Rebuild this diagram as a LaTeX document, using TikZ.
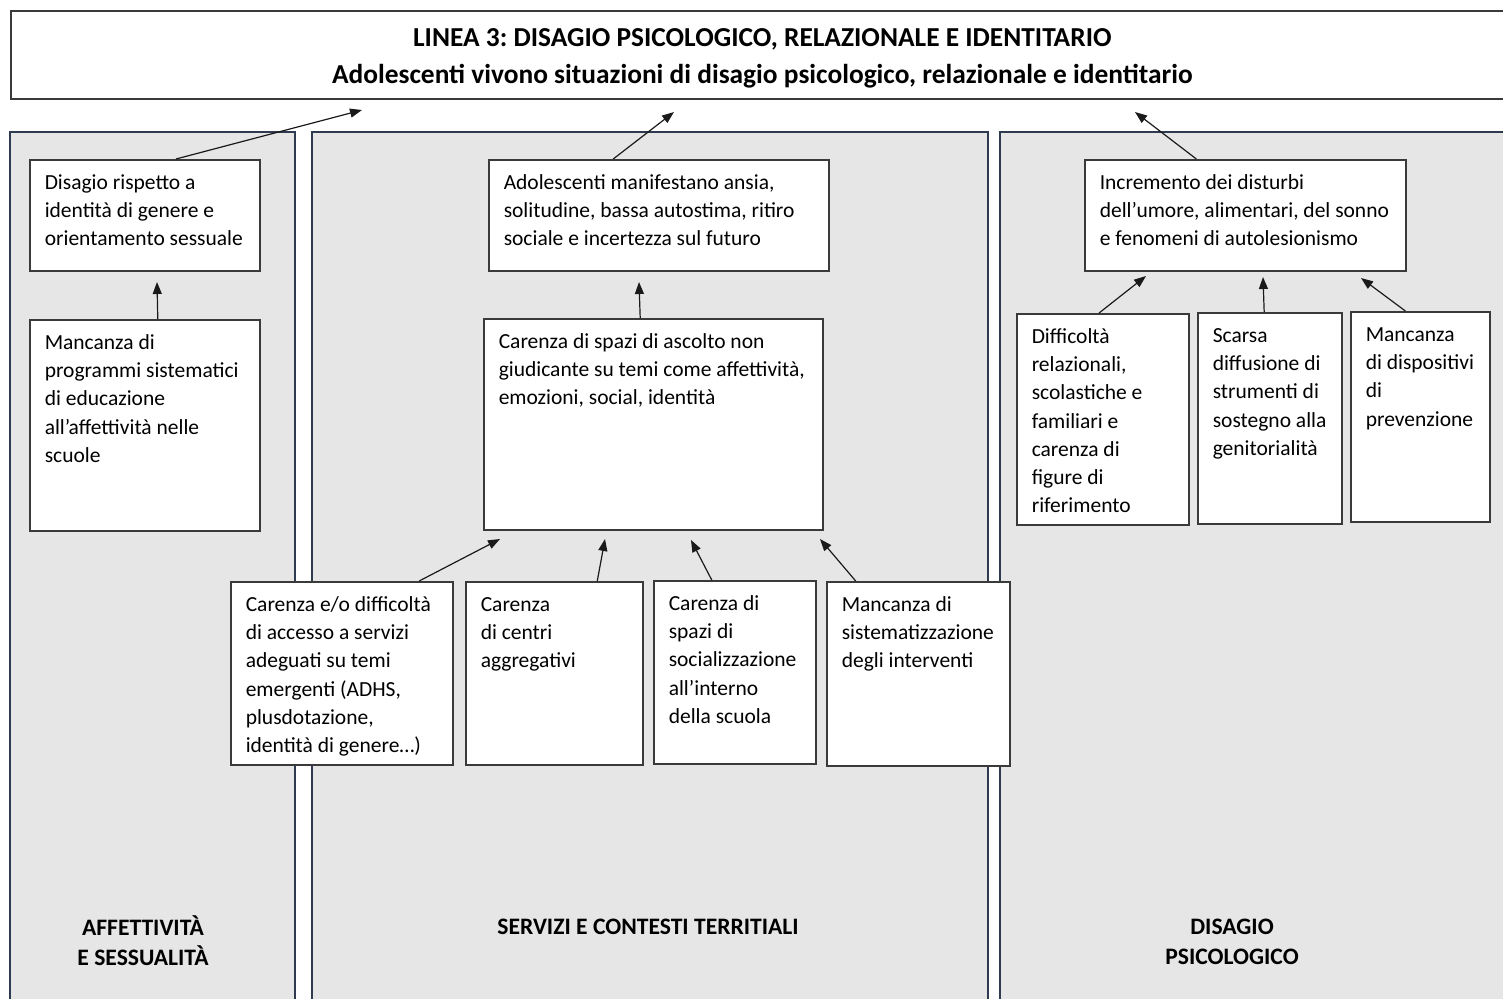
\documentclass[tikz,border=0pt]{standalone}
\usepackage{fontspec}
\setmainfont{Carlito}
\usetikzlibrary{arrows.meta}
\frenchspacing

\definecolor{panelgray}{HTML}{E7E6E6}
\definecolor{panelline}{HTML}{2E3A50}
\definecolor{boxline}{HTML}{3A3A3A}
\definecolor{arrowline}{HTML}{1A1A1A}

% text block of a box: width, height, lines
\newcommand{\btxt}[3]{\parbox[t][#2][t]{#1}{\begin{tabular}[t]{@{}l@{}}#3\end{tabular}}}

\begin{document}
\begin{tikzpicture}[x=0.5pt, y=-0.5pt,
    panel/.style={fill=panelgray, draw=panelline, line width=1pt},
    paneltitle/.style={font=\bfseries\fontsize{11.8}{15}\selectfont, align=center}]
  \useasboundingbox (0,0) rectangle (1503,998);
  \clip (0,0) rectangle (1503,998);

  % the three areas
  \draw[panel] (10,132) rectangle (295,1010);
  \draw[panel] (312,132) rectangle (988,1010);
  \draw[panel] (1000,132) rectangle (1512,1010);
  \node[paneltitle] (lab1) at (143,941) {AFFETTIVITÀ\\E SESSUALITÀ};
  \node[paneltitle] (lab2) at (648,927) {SERVIZI E CONTESTI TERRITIALI};
  \node[paneltitle] (lab3) at (1232,942) {DISAGIO\\PSICOLOGICO};

  % main problem
  \node (linea) [draw=boxline, line width=0.8pt, fill=white, anchor=north west,
    minimum width=751.5pt, minimum height=44pt, align=center,
    font=\bfseries\fontsize{13.7}{18.5}\selectfont] at (10,10)
    {\rule{0pt}{12.5pt}LINEA 3: DISAGIO PSICOLOGICO, RELAZIONALE E IDENTITARIO\\
     Adolescenti vivono situazioni di disagio psicologico, relazionale e identitario};

  \begin{scope}[every node/.style={draw=boxline, fill=white, line width=0.75pt,
      anchor=north west, inner xsep=7.5pt, inner ysep=5pt,
      font=\fontsize{10.75}{14.1}\selectfont}]
    \node (a1) at (29,159) {\btxt{100pt}{45.5pt}{Disagio rispetto a\\identità di genere e\\orientamento sessuale}};
    \node (a2) at (29,319) {\btxt{100pt}{95.5pt}{Mancanza di\\programmi sistematici\\di educazione\\all’affettività nelle\\scuole}};
    \node (b1) at (488,159) {\btxt{155pt}{45.5pt}{Adolescenti manifestano ansia,\\solitudine, bassa autostima, ritiro\\sociale e incertezza sul futuro}};
    \node (b2) at (483,318) {\btxt{154.5pt}{95.5pt}{Carenza di spazi di ascolto non\\giudicante su temi come affettività,\\emozioni, social, identità}};
    \node (b3) at (230,581) {\btxt{96pt}{81.5pt}{Carenza e/o difficoltà\\di accesso a servizi\\adeguati su temi\\emergenti (ADHS,\\plusdotazione,\\identità di genere…)}};
    \node (b4) at (465,581) {\btxt{73.5pt}{81.5pt}{Carenza\\di centri\\aggregativi}};
    \node (b5) at (653,580) {\btxt{66pt}{81.5pt}{Carenza di\\spazi di\\socializzazione\\all’interno\\della scuola}};
    \node (b6) at (826,581) {\btxt{76.5pt}{82pt}{Mancanza di\\sistematizzazione\\degli interventi}};
    \node (c1) at (1084,159) {\btxt{145.5pt}{45.5pt}{Incremento dei disturbi\\dell’umore, alimentari, del sonno\\e fenomeni di autolesionismo}};
    \node (c2) at (1016,313) {\btxt{71pt}{95.5pt}{Difficoltà\\relazionali,\\scolastiche e\\familiari e\\carenza di\\figure di\\riferimento}};
    \node (c3) at (1197,312) {\btxt{57pt}{95.5pt}{Scarsa\\diffusione di\\strumenti di\\sostegno alla\\genitorialità}};
    \node (c4) at (1350,311) {\btxt{54.5pt}{95pt}{Mancanza\\di dispositivi\\di\\prevenzione}};
  \end{scope}

  % arrow tips
  \coordinate (tA1) at (362,110);
  \coordinate (tA2) at (157,282);
  \coordinate (tB1) at (674,112);
  \coordinate (tB2) at (639,282);
  \coordinate (tC1) at (1135,112);
  \coordinate (tB3) at (500,539);
  \coordinate (tB4) at (605,539);
  \coordinate (tB5) at (691,540);
  \coordinate (tB6) at (820,539);
  \coordinate (tC2) at (1146,276);
  \coordinate (tC3) at (1263,277);
  \coordinate (tC4) at (1361,278);

  \begin{scope}[every edge/.style={draw=arrowline, line width=0.6pt,
      -{Triangle[length=6pt, width=4.5pt]}}]
    \path (a1.61) edge (tA1);
    \path (a2.83) edge (tA2);
    \path (b1.129) edge (tB1);
    \path (b2.97) edge (tB2);
    \path (c1.131) edge (tC1);
    \path (b3.50) edge (tB3);
    \path (b4.65) edge (tB4);
    \path (b5.104) edge (tB5);
    \path (b6.124) edge (tB6);
    \path (c2.92) edge (tC2);
    \path (c3.93) edge (tC3);
    \path (c4.98) edge (tC4);
  \end{scope}
\end{tikzpicture}
\end{document}
